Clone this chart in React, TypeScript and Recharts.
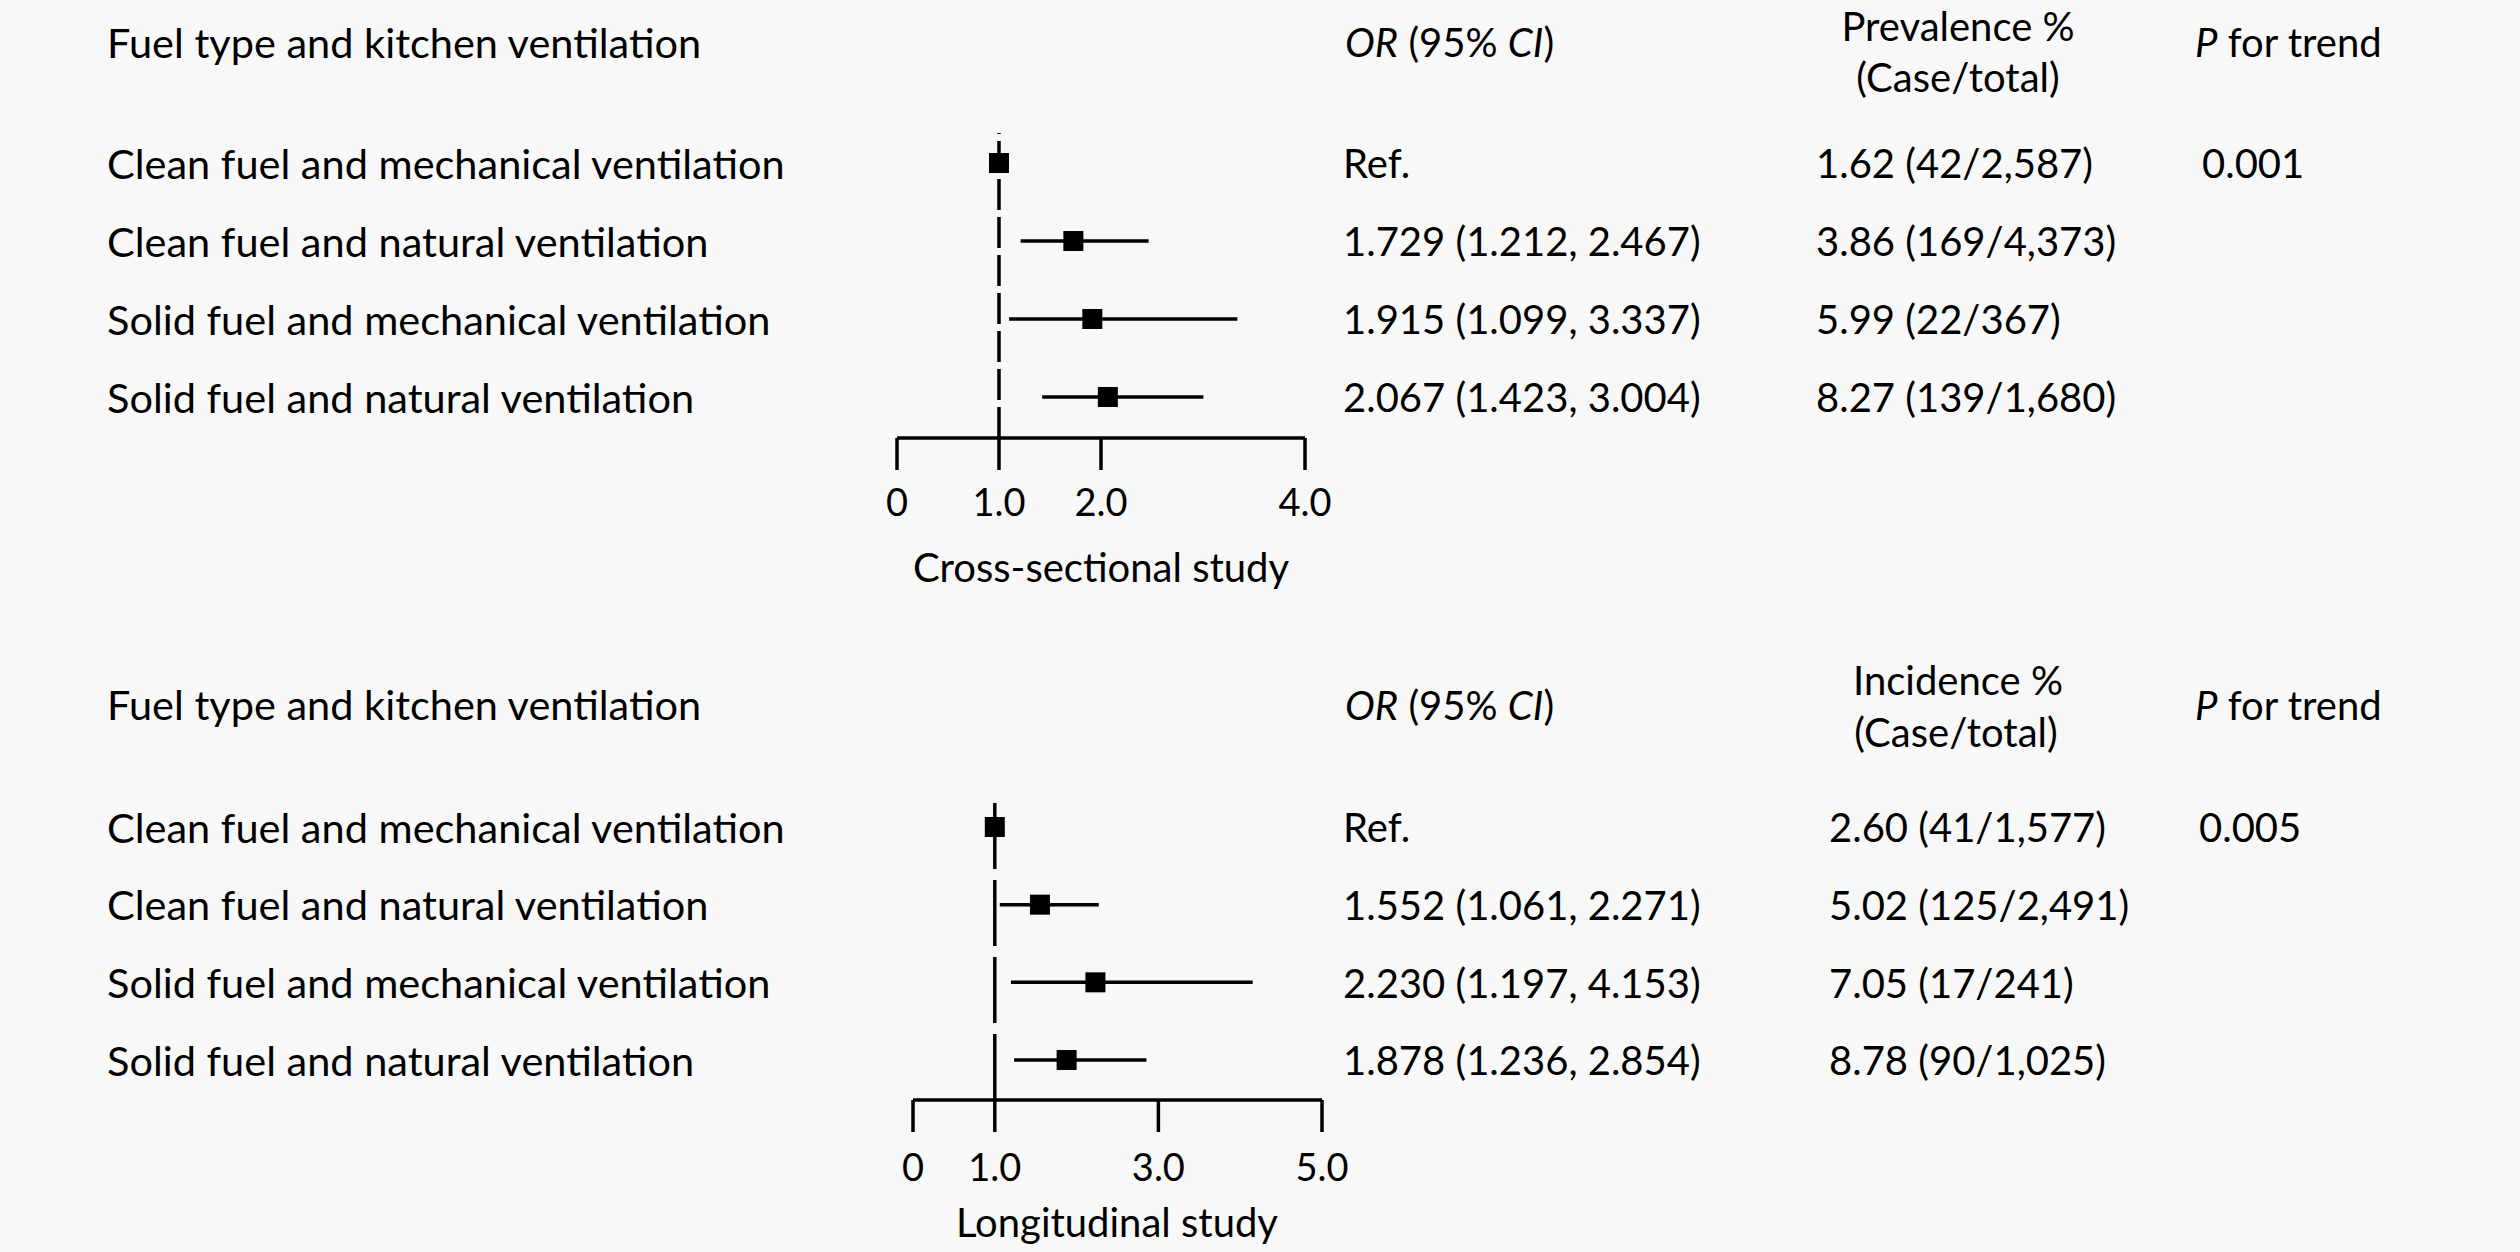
import React from "react";
import { ScatterChart, Scatter, XAxis, YAxis, ErrorBar, ReferenceLine } from "recharts";

// ---------- data ----------
const rowLabels = [
  "Clean fuel and mechanical ventilation",
  "Clean fuel and natural ventilation",
  "Solid fuel and mechanical ventilation",
  "Solid fuel and natural ventilation",
];
const rowIds = [1, 2, 3, 4];

const crossOR = [1, 1.729, 1.915, 2.067];
const crossLow = [1, 1.212, 1.099, 1.423];
const crossHigh = [1, 2.467, 3.337, 3.004];
const crossRate = ["1.62 (42/2,587)", "3.86 (169/4,373)", "5.99 (22/367)", "8.27 (139/1,680)"];
const crossP = ["0.001", "", "", ""];
const crossTicks = [0, 1, 2, 4];

const longOR = [1, 1.552, 2.23, 1.878];
const longLow = [1, 1.061, 1.197, 1.236];
const longHigh = [1, 2.271, 4.153, 2.854];
const longRate = ["2.60 (41/1,577)", "5.02 (125/2,491)", "7.05 (17/241)", "8.78 (90/1,025)"];
const longP = ["0.005", "", "", ""];
const longTicks = [0, 1, 3, 5];

const FONT = "Lato, 'Open Sans', sans-serif";
const FS = 40;
const FS_LABEL = 41.5;
const W = 2520;

const buildRows = (or: number[], low: number[], high: number[]) =>
  rowIds.map((r, i) => ({ row: r, or: or[i], err: [or[i] - low[i], high[i] - or[i]] }));

const orText = (or: number[], low: number[], high: number[]) =>
  or.map((v, i) => (i === 0 ? "Ref." : `${v.toFixed(3)} (${low[i].toFixed(3)}, ${high[i].toFixed(3)})`));

const tickFmt = (v: number) => (v === 0 ? "0" : v.toFixed(1));

const Square = (props: any) => {
  const { cx, cy } = props;
  if (cx == null || cy == null) return null;
  return <rect x={cx - 10} y={cy - 10} width={20} height={20} fill="#000" />;
};

type Cfg = { labels: string[]; ors: string[]; rates: string[]; ps: string[]; rateX: number; pX: number };

const RowTick = (props: any) => {
  const { y, payload, cfg } = props as { y: number; payload: { value: number }; cfg: Cfg };
  const i = Math.round(payload.value) - 1;
  const common = { y, dy: "0.38em", fontFamily: FONT, fontSize: FS, fill: "#000" } as any;
  return (
    <g>
      <text x={107} {...common} fontSize={FS_LABEL}>{cfg.labels[i]}</text>
      <text x={1343} {...common}>{cfg.ors[i]}</text>
      <text x={cfg.rateX} {...common}>{cfg.rates[i]}</text>
      <text x={cfg.pX} {...common}>{cfg.ps[i]}</text>
    </g>
  );
};

type PanelProps = {
  top: number;
  height: number;
  marginTop: number;
  left: number;
  right: number;
  xAxisHeight: number;
  domainY: [number, number];
  ticks: number[];
  data: any[];
  cfg: Cfg;
  dash: string;
  tickMargin: number;
};

const Panel = (p: PanelProps) => (
  <div style={{ position: "absolute", left: 0, top: p.top }}>
    <ScatterChart
      width={W}
      height={p.height}
      margin={{ top: p.marginTop, right: W - p.right, bottom: 0, left: 0 }}
    >
      <XAxis
        type="number"
        dataKey="or"
        domain={[p.ticks[0], p.ticks[p.ticks.length - 1]]}
        ticks={p.ticks}
        interval={0}
        allowDataOverflow
        height={p.xAxisHeight}
        tickSize={32}
        tickMargin={p.tickMargin}
        tickFormatter={tickFmt}
        axisLine={{ stroke: "#000", strokeWidth: 3.5 }}
        tickLine={{ stroke: "#000", strokeWidth: 3.5 }}
        tick={{ fill: "#000", fontSize: 38, fontFamily: FONT }}
      />
      <YAxis
        type="number"
        dataKey="row"
        domain={p.domainY}
        reversed
        allowDataOverflow
        ticks={rowIds}
        interval={0}
        width={p.left}
        axisLine={false}
        tickLine={false}
        tick={(tp: any) => <RowTick {...tp} cfg={p.cfg} />}
      />
      <ReferenceLine x={1} stroke="#000" strokeWidth={3.5} strokeDasharray={p.dash} />
      <Scatter data={p.data} shape={Square} isAnimationActive={false}>
        <ErrorBar dataKey="err" direction="x" width={0} stroke="#000" strokeWidth={3.5} isAnimationActive={false} />
      </Scatter>
    </ScatterChart>
  </div>
);

const T = (props: any) => {
  const { x, y, anchor, size, children } = props;
  return (
    <text x={x} y={y} dy="0.36em" textAnchor={anchor || "start"} fontFamily={FONT} fontSize={size || FS} fill="#000">
      {children}
    </text>
  );
};

export default function App() {
  const crossCfg: Cfg = {
    labels: rowLabels,
    ors: orText(crossOR, crossLow, crossHigh),
    rates: crossRate,
    ps: crossP,
    rateX: 1816,
    pX: 2202,
  };
  const longCfg: Cfg = {
    labels: rowLabels,
    ors: orText(longOR, longLow, longHigh),
    rates: longRate,
    ps: longP,
    rateX: 1829,
    pX: 2199,
  };
  return (
    <div
      style={{
        position: "absolute",
        left: 0,
        top: 0,
        width: W,
        height: 1252,
        background: "#f8f8f8",
        overflow: "hidden",
      }}
    >
      <Panel
        top={0}
        height={600}
        marginTop={133}
        left={897}
        right={1305}
        xAxisHeight={162}
        domainY={[0.615, 4.526]}
        ticks={crossTicks}
        data={buildRows(crossOR, crossLow, crossHigh)}
        cfg={crossCfg}
        dash="31 7"
        tickMargin={19}
      />
      <Panel
        top={640}
        height={612}
        marginTop={155}
        left={913}
        right={1322}
        xAxisHeight={152}
        domainY={[0.588, 4.515]}
        ticks={longTicks}
        data={buildRows(longOR, longLow, longHigh)}
        cfg={longCfg}
        dash="66 11"
        tickMargin={22}
      />
      <svg width={W} height={1252} style={{ position: "absolute", left: 0, top: 0, pointerEvents: "none" }}>
        <T x={107} y={43} size={FS_LABEL}>Fuel type and kitchen ventilation</T>
        <T x={1345} y={43}>
          <tspan fontStyle="italic">OR</tspan> (95% <tspan fontStyle="italic">CI</tspan>)
        </T>
        <T x={1958} y={27} anchor="middle">Prevalence %</T>
        <T x={1958} y={78} anchor="middle">(Case/total)</T>
        <T x={2195} y={43}>
          <tspan fontStyle="italic">P</tspan> for trend
        </T>
        <T x={1101} y={568} anchor="middle">Cross-sectional study</T>

        <T x={107} y={705} size={FS_LABEL}>Fuel type and kitchen ventilation</T>
        <T x={1345} y={706}>
          <tspan fontStyle="italic">OR</tspan> (95% <tspan fontStyle="italic">CI</tspan>)
        </T>
        <T x={1958} y={681} anchor="middle">Incidence %</T>
        <T x={1956} y={733} anchor="middle">(Case/total)</T>
        <T x={2195} y={706}>
          <tspan fontStyle="italic">P</tspan> for trend
        </T>
        <T x={1117} y={1223} anchor="middle">Longitudinal study</T>
      </svg>
    </div>
  );
}
